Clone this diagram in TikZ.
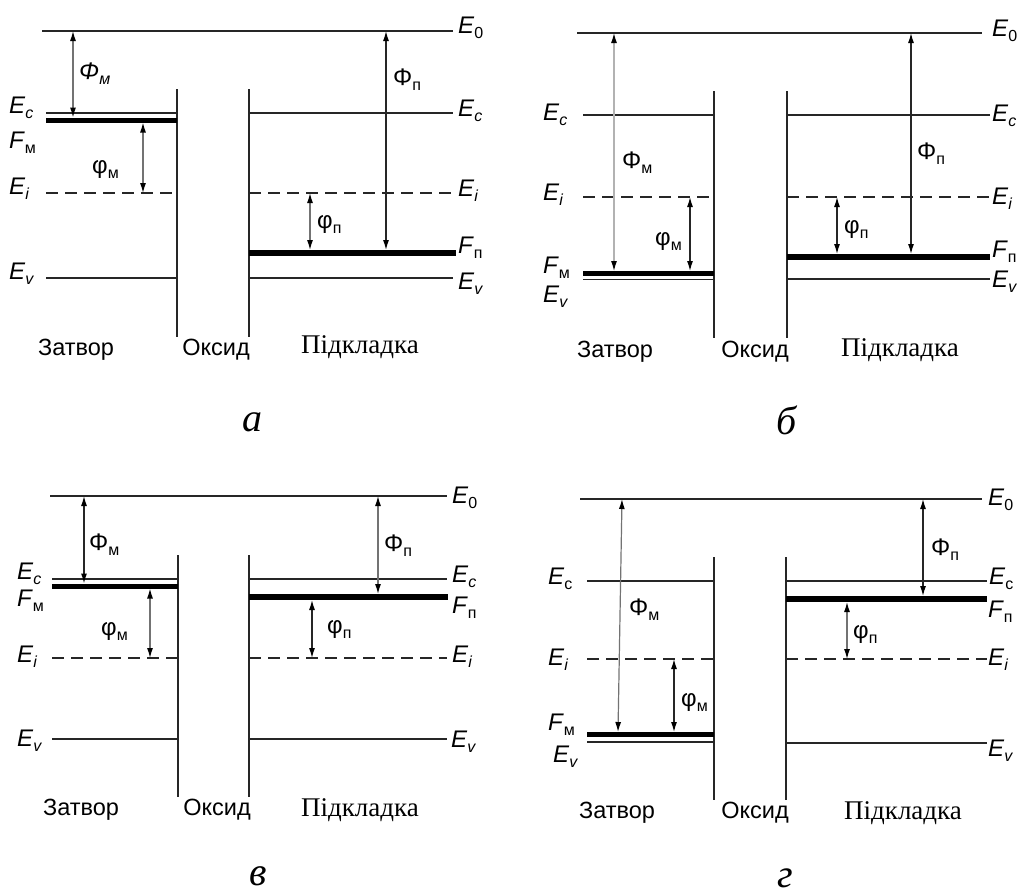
\documentclass[tikz,border=0pt]{standalone}
\usepackage{fontspec}
\setmainfont{Liberation Sans}
\newfontfamily\capfont{Liberation Serif}
\usetikzlibrary{arrows.meta}
\newcommand\lv[2]{#1\raisebox{-5pt}{\fontsize{16}{16}\selectfont #2}}
\begin{document}
\begin{tikzpicture}[x=1pt,y=-1pt,
 lev/.style={draw=black!85, line width=1.3pt},
 fermi/.style={draw=black, line width=5pt},
 fermiw/.style={draw=black, line width=6pt},
 mid/.style={draw=black!85, line width=1.3pt, dash pattern=on 12pt off 7pt},
 wall/.style={draw=black!85, line width=1.5pt},
 arrb/.style={draw=black!85, line width=1.2pt, {Latex[length=10pt,width=6pt,color=black]}-{Latex[length=10pt,width=6pt,color=black]}},
 arrg/.style={arrb, draw=black!55},
 arrlg/.style={arrb, draw=black!30},
 lab/.style={inner sep=0pt, font=\fontsize{24}{28}\selectfont},
 reg/.style={inner sep=0pt, font=\fontsize{23.5}{28}\selectfont},
 substr/.style={inner sep=0pt, font=\capfont\fontsize{27}{32}\selectfont},
 capt/.style={inner sep=0pt, font=\capfont\itshape\fontsize{40}{48}\selectfont},
]
\useasboundingbox (0,0) rectangle (1022,895);

% ================= panel a =================
\coordinate (aE0l) at (42,31);  \coordinate (aE0r) at (453,31);
\draw[wall] (177,89) coordinate (aW1t) -- (177,337) coordinate (aW1b);
\draw[wall] (249,89) coordinate (aW2t) -- (249,337) coordinate (aW2b);
\draw[lev] (aE0l) -- (aE0r);
\draw[lev] (46,113) coordinate (aEcl) -- (177,113);
\draw[fermi] (46,120) coordinate (aFml) -- (177,120);
\draw[mid] (46,193) coordinate (aEil) -- (177,193);
\draw[lev] (46,278) coordinate (aEvl) -- (177,278);
\draw[lev] (249,113) -- (453,113) coordinate (aEcr);
\draw[mid] (249,193) -- (453,193) coordinate (aEir);
\draw[fermiw] (249,253) -- (456,253) coordinate (aFpr);
\draw[lev] (249,278) -- (453,278) coordinate (aEvr);
\coordinate (aA1t) at (73,31);  \coordinate (aA1b) at (73,117.5);
\coordinate (aA2t) at (143,122.5); \coordinate (aA2b) at (143,193);
\coordinate (aA3t) at (386,31); \coordinate (aA3b) at (386,250);
\coordinate (aA4t) at (310,193); \coordinate (aA4b) at (310,250);
\draw[arrg] (aA1t) -- (aA1b);
\draw[arrg] (aA2t) -- (aA2b);
\draw[arrb] (aA3t) -- (aA3b);
\draw[arrg] (aA4t) -- (aA4b);
\node[lab, anchor=west] (aLPm) at (79,74) {\lv{\textit{Φ}}{\textit{м}}};
\node[lab, anchor=west] (aLpm) at (92,170) {\lv{φ}{м}};
\node[lab, anchor=west] (aLPp) at (393,80) {\lv{Φ}{п}};
\node[lab, anchor=west] (aLpp) at (317,225) {\lv{φ}{п}};
\node[lab, anchor=west] (aLEc) at (9,108) {\lv{\textit{E}}{\textit{c}}};
\node[lab, anchor=west] (aLFm) at (9,143) {\lv{\textit{F}}{м}};
\node[lab, anchor=west] (aLEi) at (9,189) {\lv{\textit{E}}{\textit{i}}};
\node[lab, anchor=west] (aLEv) at (9,274) {\lv{\textit{E}}{\textit{v}}};
\node[lab, anchor=west] (aRE0) at (458,28) {\lv{\textit{E}}{0}};
\node[lab, anchor=west] (aREc) at (458,111) {\lv{\textit{E}}{\textit{c}}};
\node[lab, anchor=west] (aREi) at (458,191) {\lv{\textit{E}}{\textit{i}}};
\node[lab, anchor=west] (aRFp) at (458,248) {\lv{\textit{F}}{п}};
\node[lab, anchor=west] (aREv) at (458,284) {\lv{\textit{E}}{\textit{v}}};
\node[reg] (aZ) at (76,350) {Затвор};
\node[reg] (aO) at (216,350) {Оксид};
\node[substr] (aP) at (360,347) {Підкладка};
\node[capt] (aC) at (252,422) {а};

% ================= panel b =================
\coordinate (bE0l) at (577,33);  \coordinate (bE0r) at (982,33);
\draw[wall] (714,91) coordinate (bW1t) -- (714,338) coordinate (bW1b);
\draw[wall] (787,91) coordinate (bW2t) -- (787,338) coordinate (bW2b);
\draw[lev] (bE0l) -- (bE0r);
\draw[lev] (583,115) coordinate (bEcl) -- (714,115);
\draw[mid] (583,197) coordinate (bEil) -- (714,197);
\draw[fermi] (583,273.5) coordinate (bFml) -- (714,273.5);
\draw[lev] (583,279.5) coordinate (bEvl) -- (714,279.5);
\draw[lev] (787,115) -- (990,115) coordinate (bEcr);
\draw[mid] (787,197) -- (990,197) coordinate (bEir);
\draw[fermiw] (787,257) -- (990,257) coordinate (bFpr);
\draw[lev] (787,279) -- (990,279) coordinate (bEvr);
\coordinate (bA1t) at (614,33);  \coordinate (bA1b) at (614,271);
\coordinate (bA2t) at (690,197); \coordinate (bA2b) at (690,271);
\coordinate (bA3t) at (911,33);  \coordinate (bA3b) at (911,254);
\coordinate (bA4t) at (837,197); \coordinate (bA4b) at (837,254);
\draw[arrlg] (bA1t) -- (bA1b);
\draw[arrb] (bA2t) -- (bA2b);
\draw[arrb] (bA3t) -- (bA3b);
\draw[arrb] (bA4t) -- (bA4b);
\node[lab, anchor=west] (bLPm) at (622,163) {\lv{Φ}{м}};
\node[lab, anchor=west] (bLpm) at (655,242) {\lv{φ}{м}};
\node[lab, anchor=west] (bLPp) at (917,154) {\lv{Φ}{п}};
\node[lab, anchor=west] (bLpp) at (844,230) {\lv{φ}{п}};
\node[lab, anchor=west] (bLEc) at (543,115) {\lv{\textit{E}}{\textit{c}}};
\node[lab, anchor=west] (bLEi) at (543,195) {\lv{\textit{E}}{\textit{i}}};
\node[lab, anchor=west] (bLFm) at (543,268) {\lv{\textit{F}}{м}};
\node[lab, anchor=west] (bLEv) at (543,297) {\lv{\textit{E}}{\textit{v}}};
\node[lab, anchor=west] (bRE0) at (992,31) {\lv{\textit{E}}{0}};
\node[lab, anchor=west] (bREc) at (992,116) {\lv{\textit{E}}{\textit{c}}};
\node[lab, anchor=west] (bREi) at (992,199) {\lv{\textit{E}}{\textit{i}}};
\node[lab, anchor=west] (bRFp) at (992,252) {\lv{\textit{F}}{п}};
\node[lab, anchor=west] (bREv) at (992,282) {\lv{\textit{E}}{\textit{v}}};
\node[reg] (bZ) at (615,352) {Затвор};
\node[reg] (bO) at (755,352) {Оксид};
\node[substr] (bP) at (900,350) {Підкладка};
\node[capt] (bC) at (787,420) {б};

% ================= panel c =================
\coordinate (cE0l) at (50,496);  \coordinate (cE0r) at (447,496);
\draw[wall] (178,555) coordinate (cW1t) -- (178,797) coordinate (cW1b);
\draw[wall] (249,555) coordinate (cW2t) -- (249,797) coordinate (cW2b);
\draw[lev] (cE0l) -- (cE0r);
\draw[lev] (52,579) coordinate (cEcl) -- (178,579);
\draw[fermi] (52,586) coordinate (cFml) -- (178,586);
\draw[mid] (52,658) coordinate (cEil) -- (178,658);
\draw[lev] (52,739) coordinate (cEvl) -- (178,739);
\draw[lev] (249,579) -- (447,579) coordinate (cEcr);
\draw[fermiw] (249,597) -- (448,597) coordinate (cFpr);
\draw[mid] (249,658) -- (447,658) coordinate (cEir);
\draw[lev] (249,739) -- (447,739) coordinate (cEvr);
\coordinate (cA1t) at (84,496);  \coordinate (cA1b) at (84,583.5);
\coordinate (cA2t) at (150,588.5); \coordinate (cA2b) at (150,658);
\coordinate (cA3t) at (378,496); \coordinate (cA3b) at (378,594);
\coordinate (cA4t) at (312,600); \coordinate (cA4b) at (312,658);
\draw[arrb] (cA1t) -- (cA1b);
\draw[arrg] (cA2t) -- (cA2b);
\draw[arrg] (cA3t) -- (cA3b);
\draw[arrb] (cA4t) -- (cA4b);
\node[lab, anchor=west] (cLPm) at (89,545) {\lv{Φ}{м}};
\node[lab, anchor=west] (cLpm) at (101,632) {\lv{φ}{м}};
\node[lab, anchor=west] (cLPp) at (384,546) {\lv{Φ}{п}};
\node[lab, anchor=west] (cLpp) at (327,630) {\lv{φ}{п}};
\node[lab, anchor=west] (cLEc) at (17,574) {\lv{\textit{E}}{\textit{c}}};
\node[lab, anchor=west] (cLFm) at (17,601) {\lv{\textit{F}}{м}};
\node[lab, anchor=west] (cLEi) at (17,657) {\lv{\textit{E}}{\textit{i}}};
\node[lab, anchor=west] (cLEv) at (17,741) {\lv{\textit{E}}{\textit{v}}};
\node[lab, anchor=west] (cRE0) at (452,498) {\lv{\textit{E}}{0}};
\node[lab, anchor=west] (cREc) at (452,577) {\lv{\textit{E}}{\textit{c}}};
\node[lab, anchor=west] (cRFp) at (452,608) {\lv{\textit{F}}{п}};
\node[lab, anchor=west] (cREi) at (452,657) {\lv{\textit{E}}{\textit{i}}};
\node[lab, anchor=west] (cREv) at (451,742) {\lv{\textit{E}}{\textit{v}}};
\node[reg] (cZ) at (81,810) {Затвор};
\node[reg] (cO) at (217,810) {Оксид};
\node[substr] (cP) at (360,810) {Підкладка};
\node[capt] (cC) at (258,876) {в};

% ================= panel d =================
\coordinate (dE0l) at (580,499);  \coordinate (dE0r) at (982,499);
\draw[wall] (714,557) coordinate (dW1t) -- (714,800) coordinate (dW1b);
\draw[wall] (786,557) coordinate (dW2t) -- (786,800) coordinate (dW2b);
\draw[lev] (dE0l) -- (dE0r);
\draw[lev] (587,581) coordinate (dEcl) -- (714,581);
\draw[mid] (587,659) coordinate (dEil) -- (714,659);
\draw[fermi] (587,734.5) coordinate (dFml) -- (714,734.5);
\draw[lev] (587,742) coordinate (dEvl) -- (714,742);
\draw[lev] (786,581) -- (987,581) coordinate (dEcr);
\draw[fermiw] (786,599) -- (987,599) coordinate (dFpr);
\draw[mid] (786,659) -- (987,659) coordinate (dEir);
\draw[lev] (786,743) -- (987,743) coordinate (dEvr);
\coordinate (dA1t) at (622,499);  \coordinate (dA1b) at (618,732);
\coordinate (dA2t) at (674,659); \coordinate (dA2b) at (674,732);
\coordinate (dA3t) at (923,499); \coordinate (dA3b) at (923,596);
\coordinate (dA4t) at (847,602); \coordinate (dA4b) at (847,659);
\draw[arrg] (dA1t) -- (dA1b);
\draw[arrb] (dA2t) -- (dA2b);
\draw[arrb] (dA3t) -- (dA3b);
\draw[arrg] (dA4t) -- (dA4b);
\node[lab, anchor=west] (dLPm) at (629,610) {\lv{Φ}{м}};
\node[lab, anchor=west] (dLpm) at (681,703) {\lv{φ}{м}};
\node[lab, anchor=west] (dLPp) at (931,550) {\lv{Φ}{п}};
\node[lab, anchor=west] (dLpp) at (853,635) {\lv{φ}{п}};
\node[lab, anchor=west] (dLEc) at (548,579) {\lv{\textit{E}}{c}};
\node[lab, anchor=west] (dLEi) at (548,660) {\lv{\textit{E}}{\textit{i}}};
\node[lab, anchor=west] (dLFm) at (548,725) {\lv{\textit{F}}{м}};
\node[lab, anchor=west] (dLEv) at (553,757) {\lv{\textit{E}}{\textit{v}}};
\node[lab, anchor=west] (dRE0) at (988,500) {\lv{\textit{E}}{0}};
\node[lab, anchor=west] (dREc) at (989,579) {\lv{\textit{E}}{c}};
\node[lab, anchor=west] (dRFp) at (988,612) {\lv{\textit{F}}{п}};
\node[lab, anchor=west] (dREi) at (988,660) {\lv{\textit{E}}{\textit{i}}};
\node[lab, anchor=west] (dREv) at (988,751) {\lv{\textit{E}}{\textit{v}}};
\node[reg] (dZ) at (617,813) {Затвор};
\node[reg] (dO) at (755,813) {Оксид};
\node[substr] (dP) at (903,813) {Підкладка};
\node[capt] (dC) at (785,878) {г};
\end{tikzpicture}
\end{document}
